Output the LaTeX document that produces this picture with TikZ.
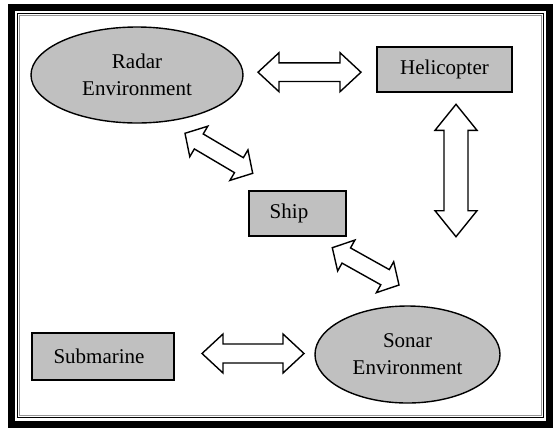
\documentclass[tikz,border=0pt]{standalone}
\usepackage{fontspec}
\setmainfont{Liberation Serif}
\usetikzlibrary{shapes.geometric,calc}

\definecolor{boxgray}{RGB}{192,192,192}
\definecolor{rulegray}{RGB}{150,150,150}

% Hollow two-headed block arrow between two named coordinates:
% #1,#2 tips, #3 head length, #4 head half-width, #5 shaft half-width
\newcommand{\fatarrow}[5]{%
  \coordinate (#1-h) at ($(#1)!#3!(#2)$);
  \coordinate (#2-h) at ($(#2)!#3!(#1)$);
  \draw[link] (#1)
    -- ($(#1-h)!#4!-90:(#2)$) -- ($(#1-h)!#5!-90:(#2)$)
    -- ($(#2-h)!#5!90:(#1)$)  -- ($(#2-h)!#4!90:(#1)$)
    -- (#2)
    -- ($(#2-h)!#4!-90:(#1)$) -- ($(#2-h)!#5!-90:(#1)$)
    -- ($(#1-h)!#5!90:(#2)$)  -- ($(#1-h)!#4!90:(#2)$)
    -- cycle;}

\begin{document}
\begin{tikzpicture}[x=1pt,y=-1pt,
  every node/.style={font=\fontsize{21}{27}\selectfont},
  unit/.style={draw, fill=boxgray, line width=1.4pt, inner sep=0pt},
  env/.style={unit, ellipse, align=center},
  link/.style={draw, fill=white, line width=1.4pt, line join=miter}]

\useasboundingbox (0,0) rectangle (553,429);

% page border: thick outer rule and two thin inner rules
\draw[line width=7pt] (11.5,7.5) rectangle (549.5,424);
\draw[line width=1pt] (17.3,13) rectangle (543,417.5);
\draw[line width=0.7pt, rulegray] (19.5,15.2) rectangle (541,415.5);

% units and environments
\node[env, minimum width=212pt, minimum height=96pt] (radar) at (137,75) {Radar\\Environment};
\node[unit, minimum width=135pt, minimum height=45pt] (heli) at (444.5,69.5) {Helicopter};
\node[unit, minimum width=97pt, minimum height=45pt] (ship) at (297.5,213.5) {};
\node (shiptext) at (289,213.5) {Ship};
\node[unit, minimum width=142pt, minimum height=47pt] (sub) at (103,356.5) {};
\node (subtext) at (99,356.5) {Submarine};
\node[env, minimum width=185pt, minimum height=97pt] (sonar) at (407.5,354.5) {Sonar\\Environment};

% arrow tips
\coordinate (rh1) at (258,72.2);
\coordinate (rh2) at (361,72.2);
\coordinate (hs1) at (456,104.3);
\coordinate (hs2) at (456,236.7);
\coordinate (rs1) at (185,133.3);
\coordinate (rs2) at (252.7,173.3);
\coordinate (ss1) at (332.3,247.7);
\coordinate (ss2) at (399,285);
\coordinate (us1) at (202,353.5);
\coordinate (us2) at (304,353.5);

% two-way links
\fatarrow{rh1}{rh2}{21pt}{19.5pt}{9.3pt}
\fatarrow{hs1}{hs2}{26pt}{21pt}{12pt}
\fatarrow{rs1}{rs2}{16pt}{17.7pt}{8.7pt}
\fatarrow{ss1}{ss2}{16pt}{17.7pt}{8.7pt}
\fatarrow{us1}{us2}{21pt}{19.5pt}{9.5pt}

\end{tikzpicture}
\end{document}
